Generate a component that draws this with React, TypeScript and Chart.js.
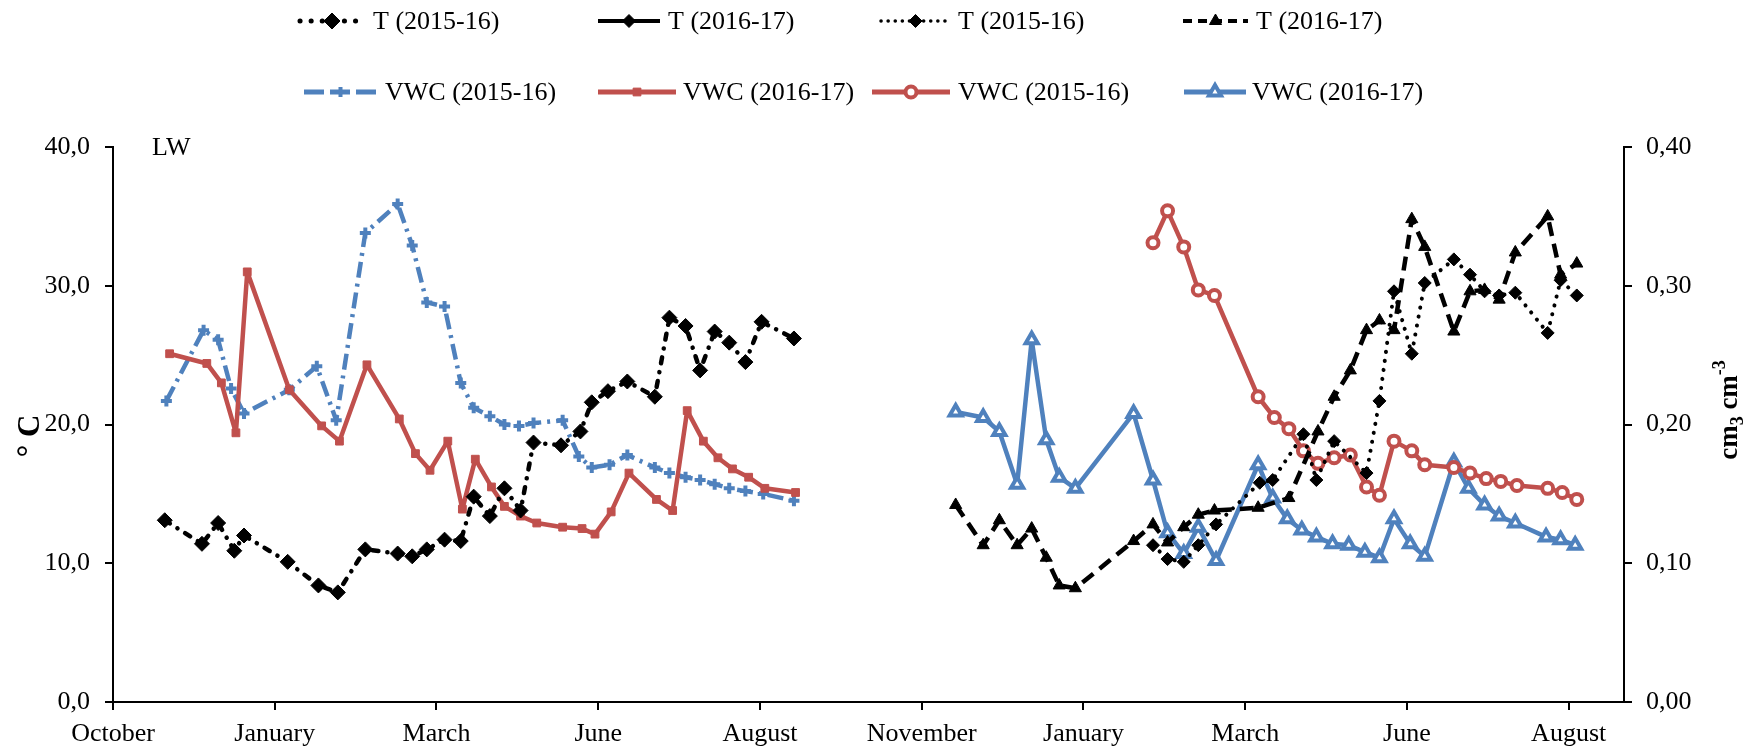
import React, { useEffect, useRef } from 'react';
import { Chart, registerables } from 'chart.js';

Chart.register(...registerables);

// ---------- tick labels ----------
const monthTicks = ['October', 'January', 'March', 'June', 'August', 'November', 'January', 'March', 'June', 'August'];
const tempTicksLabel = (v: number) => v.toFixed(1).replace('.', ',');
const vwcTicksLabel = (v: number) => v.toFixed(2).replace('.', ',');

// ---------- data (x in axis units: one unit per labelled month tick) ----------
// LW, first season block – soil temperature (°C)
const tempLW_x = [0.32, 0.55, 0.65, 0.75, 0.81, 1.08, 1.27, 1.39, 1.56, 1.76, 1.85, 1.94, 2.05, 2.15, 2.23, 2.33, 2.42, 2.52, 2.60, 2.77, 2.89, 2.96, 3.06, 3.18, 3.35, 3.44, 3.54, 3.63, 3.72, 3.81, 3.91, 4.01, 4.21];
const tempLW = [13.1, 11.4, 12.9, 10.9, 12.0, 10.1, 8.4, 7.9, 11.0, 10.7, 10.5, 11.0, 11.7, 11.6, 14.8, 13.4, 15.4, 13.8, 18.7, 18.5, 19.5, 21.6, 22.4, 23.1, 22.0, 27.7, 27.1, 23.9, 26.7, 25.9, 24.5, 27.4, 26.2];

// VWC (2015-16), blue dashed (cm3 cm-3)
const vwcBlueLW_x = [0.33, 0.56, 0.65, 0.73, 0.81, 1.09, 1.26, 1.38, 1.56, 1.76, 1.85, 1.94, 2.05, 2.15, 2.23, 2.33, 2.42, 2.51, 2.60, 2.78, 2.88, 2.96, 3.07, 3.18, 3.35, 3.44, 3.54, 3.63, 3.72, 3.81, 3.91, 4.02, 4.21];
const vwcBlueLW = [0.217, 0.268, 0.261, 0.226, 0.208, 0.225, 0.242, 0.203, 0.338, 0.359, 0.329, 0.288, 0.285, 0.230, 0.212, 0.206, 0.200, 0.199, 0.201, 0.203, 0.177, 0.169, 0.171, 0.178, 0.169, 0.165, 0.162, 0.160, 0.157, 0.154, 0.152, 0.150, 0.145];

// VWC (2016-17), red solid
const vwcRedLW_x = [0.35, 0.58, 0.67, 0.76, 0.83, 1.09, 1.29, 1.40, 1.57, 1.77, 1.87, 1.96, 2.07, 2.16, 2.24, 2.34, 2.42, 2.52, 2.62, 2.78, 2.90, 2.98, 3.08, 3.19, 3.36, 3.46, 3.55, 3.65, 3.74, 3.83, 3.93, 4.03, 4.22];
const vwcRedLW = [0.251, 0.244, 0.230, 0.194, 0.310, 0.225, 0.199, 0.188, 0.243, 0.204, 0.179, 0.167, 0.188, 0.139, 0.175, 0.155, 0.141, 0.134, 0.129, 0.126, 0.125, 0.121, 0.137, 0.165, 0.146, 0.138, 0.210, 0.188, 0.176, 0.168, 0.162, 0.154, 0.151];

// second block – T (2015-16), dotted with small diamonds
const tempB15_x = [6.43, 6.52, 6.62, 6.71, 6.82, 7.09, 7.17, 7.36, 7.44, 7.55, 7.75, 7.83, 7.92, 8.03, 8.11, 8.29, 8.39, 8.48, 8.57, 8.67, 8.87, 8.95, 9.05];
const tempB15 = [11.3, 10.3, 10.1, 11.3, 12.8, 15.8, 16.0, 19.3, 16.0, 18.8, 16.5, 21.7, 29.6, 25.1, 30.2, 31.9, 30.8, 29.6, 29.3, 29.5, 26.6, 30.4, 29.3];

// T (2016-17), dashed with triangles
const tempB16_x = [5.21, 5.38, 5.48, 5.59, 5.68, 5.77, 5.85, 5.95, 6.31, 6.43, 6.52, 6.62, 6.71, 6.81, 7.08, 7.27, 7.45, 7.55, 7.65, 7.75, 7.83, 7.92, 8.03, 8.11, 8.29, 8.39, 8.48, 8.57, 8.67, 8.87, 8.95, 9.05];
const tempB16 = [14.2, 11.3, 13.1, 11.3, 12.5, 10.4, 8.4, 8.2, 11.6, 12.8, 11.5, 12.6, 13.5, 13.8, 14.0, 14.7, 19.5, 22.0, 23.9, 26.8, 27.5, 26.8, 34.8, 32.8, 26.7, 29.6, 29.7, 29.0, 32.4, 35.0, 30.8, 31.6];

// VWC (2015-16), red with open circles
const vwcB15_x = [6.43, 6.52, 6.62, 6.71, 6.81, 7.08, 7.18, 7.27, 7.36, 7.45, 7.55, 7.65, 7.75, 7.83, 7.92, 8.03, 8.11, 8.29, 8.39, 8.49, 8.58, 8.68, 8.87, 8.96, 9.05];
const vwcB15 = [0.331, 0.354, 0.328, 0.297, 0.293, 0.220, 0.205, 0.197, 0.181, 0.172, 0.176, 0.178, 0.155, 0.149, 0.188, 0.181, 0.171, 0.169, 0.165, 0.161, 0.159, 0.156, 0.154, 0.151, 0.146];

// VWC (2016-17), blue with open triangles
const vwcB16_x = [5.21, 5.38, 5.48, 5.59, 5.68, 5.77, 5.85, 5.95, 6.31, 6.43, 6.52, 6.62, 6.71, 6.82, 7.08, 7.17, 7.26, 7.35, 7.44, 7.54, 7.64, 7.74, 7.83, 7.92, 8.02, 8.11, 8.29, 8.38, 8.48, 8.57, 8.67, 8.86, 8.95, 9.04];
const vwcB16 = [0.209, 0.205, 0.195, 0.157, 0.261, 0.189, 0.162, 0.154, 0.208, 0.160, 0.122, 0.107, 0.126, 0.102, 0.171, 0.147, 0.132, 0.124, 0.119, 0.114, 0.113, 0.108, 0.104, 0.132, 0.114, 0.105, 0.173, 0.154, 0.142, 0.134, 0.129, 0.119, 0.117, 0.113];

// ---------- styles ----------
const BLACK = '#000000';
const BLUE = '#4F81BD';
const RED = '#C0504D';
const FONT = "'Liberation Serif', 'Times New Roman', serif";

const pts = (xs: number[], ys: number[]) => xs.map((x, i) => ({ x, y: ys[i] }));

type Mk = { kind: string; r: number; fill: string; stroke: string; bw: number };
type LegendItem = {
  text: string; color: string; width: number; dash: number[]; cap: CanvasLineCap;
  mk: Mk; x0: number; x1: number; tx: number; y: number;
};

const legendItems: LegendItem[] = [
  { text: 'T (2015-16)', color: BLACK, width: 5, dash: [0.1, 11], cap: 'round', mk: { kind: 'diamond', r: 8, fill: BLACK, stroke: BLACK, bw: 1 }, x0: 300, x1: 364, tx: 373, y: 21 },
  { text: 'T (2016-17)', color: BLACK, width: 4, dash: [], cap: 'butt', mk: { kind: 'diamond', r: 6.5, fill: BLACK, stroke: BLACK, bw: 1 }, x0: 598, x1: 660, tx: 668, y: 21 },
  { text: 'T (2015-16)', color: BLACK, width: 3.5, dash: [0.1, 7], cap: 'round', mk: { kind: 'diamond', r: 6.5, fill: BLACK, stroke: BLACK, bw: 1 }, x0: 881, x1: 950, tx: 958, y: 21 },
  { text: 'T (2016-17)', color: BLACK, width: 4, dash: [9, 6], cap: 'butt', mk: { kind: 'triangle', r: 7, fill: BLACK, stroke: BLACK, bw: 1 }, x0: 1183, x1: 1248, tx: 1256, y: 21 },
  { text: 'VWC (2015-16)', color: BLUE, width: 5, dash: [20, 6], cap: 'butt', mk: { kind: 'cross', r: 5, fill: BLUE, stroke: BLUE, bw: 4 }, x0: 304, x1: 377, tx: 385, y: 92 },
  { text: 'VWC (2016-17)', color: RED, width: 5, dash: [], cap: 'butt', mk: { kind: 'rect', r: 5.5, fill: RED, stroke: RED, bw: 1 }, x0: 598, x1: 676, tx: 683, y: 92 },
  { text: 'VWC (2015-16)', color: RED, width: 5, dash: [], cap: 'butt', mk: { kind: 'circle', r: 5.5, fill: '#FFFFFF', stroke: RED, bw: 4 }, x0: 872, x1: 950, tx: 958, y: 92 },
  { text: 'VWC (2016-17)', color: BLUE, width: 5, dash: [], cap: 'butt', mk: { kind: 'triangle', r: 7, fill: '#FFFFFF', stroke: BLUE, bw: 4 }, x0: 1184, x1: 1246, tx: 1252, y: 92 },
];

function drawMarker(ctx: CanvasRenderingContext2D, m: Mk, x: number, y: number) {
  const r = m.r;
  ctx.save();
  ctx.setLineDash([]);
  ctx.lineWidth = m.bw;
  ctx.fillStyle = m.fill;
  ctx.strokeStyle = m.stroke;
  ctx.beginPath();
  if (m.kind === 'diamond') {
    ctx.moveTo(x, y - r); ctx.lineTo(x + r, y); ctx.lineTo(x, y + r); ctx.lineTo(x - r, y); ctx.closePath();
    ctx.fill(); ctx.stroke();
  } else if (m.kind === 'triangle') {
    let a = 0;
    ctx.moveTo(x + Math.sin(a) * r, y - Math.cos(a) * r);
    a += (2 * Math.PI) / 3;
    ctx.lineTo(x + Math.sin(a) * r, y - Math.cos(a) * r);
    a += (2 * Math.PI) / 3;
    ctx.lineTo(x + Math.sin(a) * r, y - Math.cos(a) * r);
    ctx.closePath();
    ctx.fill(); ctx.stroke();
  } else if (m.kind === 'circle') {
    ctx.arc(x, y, r, 0, Math.PI * 2);
    ctx.fill(); ctx.stroke();
  } else if (m.kind === 'rect') {
    const s = Math.SQRT1_2 * r;
    ctx.rect(x - s, y - s, 2 * s, 2 * s);
    ctx.fill(); ctx.stroke();
  } else if (m.kind === 'cross') {
    ctx.moveTo(x, y - r); ctx.lineTo(x, y + r);
    ctx.moveTo(x - r, y); ctx.lineTo(x + r, y);
    ctx.stroke();
  }
  ctx.restore();
}

const overlayPlugin = {
  id: 'overlay',
  afterDraw(chart: any) {
    const ctx: CanvasRenderingContext2D = chart.ctx;
    ctx.save();
    // legend
    ctx.font = `26px ${FONT}`;
    ctx.textBaseline = 'middle';
    ctx.textAlign = 'left';
    for (const it of legendItems) {
      ctx.save();
      ctx.strokeStyle = it.color;
      ctx.lineWidth = it.width;
      ctx.lineCap = it.cap;
      ctx.setLineDash(it.dash);
      ctx.beginPath();
      ctx.moveTo(it.x0, it.y);
      ctx.lineTo(it.x1, it.y);
      ctx.stroke();
      ctx.restore();
      drawMarker(ctx, it.mk, (it.x0 + it.x1) / 2, it.y);
      ctx.fillStyle = BLACK;
      ctx.fillText(it.text, it.tx, it.y + 1);
    }
    // site label
    const area = chart.chartArea;
    ctx.fillStyle = BLACK;
    ctx.font = `26px ${FONT}`;
    ctx.fillText('LW', area.left + 39, area.top + 1);

    // left axis title
    ctx.save();
    ctx.translate(31, 436);
    ctx.rotate(-Math.PI / 2);
    ctx.font = `bold 31px ${FONT}`;
    ctx.textAlign = 'center';
    ctx.textBaseline = 'middle';
    ctx.fillText('° C', 0, 0);
    ctx.restore();

    // right axis title  cm3 cm-3 (sub / superscript)
    ctx.save();
    ctx.translate(1730, 410);
    ctx.rotate(-Math.PI / 2);
    ctx.textBaseline = 'middle';
    ctx.textAlign = 'left';
    const big = `bold 27px ${FONT}`;
    const small = `bold 18px ${FONT}`;
    const parts: [string, string, number][] = [['cm', big, 0], ['3', small, 8], [' cm', big, 0], ['-3', small, -10]];
    let total = 0;
    for (const p of parts) { ctx.font = p[1]; total += ctx.measureText(p[0]).width; }
    let cx = -total / 2;
    for (const p of parts) {
      ctx.font = p[1];
      ctx.fillText(p[0], cx, p[2]);
      cx += ctx.measureText(p[0]).width;
    }
    ctx.restore();
    ctx.restore();
  },
};

export default function App() {
  const ref = useRef<HTMLCanvasElement>(null);
  useEffect(() => {
    document.body.style.margin = '0';
    document.body.style.overflow = 'hidden';
    const tickFont = { family: FONT, size: 26 };
    const gridCfg = { drawOnChartArea: false, drawTicks: true, tickLength: 8, color: BLACK, lineWidth: 2 };
    const borderCfg = { display: true, color: BLACK, width: 2 };

    const chart = new Chart(ref.current as HTMLCanvasElement, {
      type: 'line',
      data: {
        datasets: [
          {
            label: 'T (2015-16)', data: pts(tempLW_x, tempLW), yAxisID: 'y',
            borderColor: BLACK, borderWidth: 4.5, borderDash: [6, 9, 0.1, 9], borderCapStyle: 'round',
            pointStyle: 'rectRot', pointRadius: 7.5, pointBackgroundColor: BLACK, pointBorderColor: BLACK, pointBorderWidth: 1,
          },
          {
            label: 'T (2015-16) B', data: pts(tempB15_x, tempB15), yAxisID: 'y',
            borderColor: BLACK, borderWidth: 4, borderDash: [0.1, 9], borderCapStyle: 'round',
            pointStyle: 'rectRot', pointRadius: 6.5, pointBackgroundColor: BLACK, pointBorderColor: BLACK, pointBorderWidth: 1,
          },
          {
            label: 'T (2016-17) B', data: pts(tempB16_x, tempB16), yAxisID: 'y',
            borderColor: BLACK, borderWidth: 4.5, borderDash: [14, 8], borderCapStyle: 'butt',
            pointStyle: 'triangle', pointRadius: 7, pointBackgroundColor: BLACK, pointBorderColor: BLACK, pointBorderWidth: 1,
          },
          {
            label: 'VWC (2016-17)', data: pts(vwcRedLW_x, vwcRedLW), yAxisID: 'y2',
            borderColor: RED, borderWidth: 4.5,
            pointStyle: 'rect', pointRadius: 5.5, pointBackgroundColor: RED, pointBorderColor: RED, pointBorderWidth: 1,
          },
          {
            label: 'VWC (2015-16)', data: pts(vwcBlueLW_x, vwcBlueLW), yAxisID: 'y2',
            borderColor: BLUE, borderWidth: 4.5, borderDash: [16, 6, 3, 6], borderCapStyle: 'butt',
            pointStyle: 'cross', pointRadius: 5.5, pointBackgroundColor: BLUE, pointBorderColor: BLUE, pointBorderWidth: 4,
          },
          {
            label: 'VWC (2015-16) B', data: pts(vwcB15_x, vwcB15), yAxisID: 'y2',
            borderColor: RED, borderWidth: 4.5,
            pointStyle: 'circle', pointRadius: 5.5, pointBackgroundColor: '#FFFFFF', pointBorderColor: RED, pointBorderWidth: 4,
          },
          {
            label: 'VWC (2016-17) B', data: pts(vwcB16_x, vwcB16), yAxisID: 'y2',
            borderColor: BLUE, borderWidth: 4.5,
            pointStyle: 'triangle', pointRadius: 7, pointBackgroundColor: '#FFFFFF', pointBorderColor: BLUE, pointBorderWidth: 4,
          },
        ] as any,
      },
      options: {
        responsive: false,
        animation: false,
        devicePixelRatio: 1,
        events: [],
        layout: { padding: { top: 147, left: 0, right: 0, bottom: 0 } },
        elements: { line: { tension: 0, fill: false, borderJoinStyle: 'round' } },
        plugins: { legend: { display: false }, tooltip: { enabled: false }, title: { display: false } },
        scales: {
          x: {
            type: 'linear', min: 0, max: 9.342,
            afterBuildTicks: (s: any) => { s.ticks = monthTicks.map((_, i) => ({ value: i })); },
            afterFit: (s: any) => { s.height = 47; },
            ticks: {
              autoSkip: false, maxRotation: 0, minRotation: 0, padding: 9, color: BLACK, font: tickFont,
              callback: (v: any) => monthTicks[Math.round(Number(v))] ?? '',
            },
            grid: gridCfg, border: borderCfg,
          },
          y: {
            type: 'linear', position: 'left', min: 0, max: 40,
            afterFit: (s: any) => { s.width = 113; },
            ticks: { stepSize: 10, padding: 15, color: BLACK, font: tickFont, callback: (v: any) => tempTicksLabel(Number(v)) },
            grid: gridCfg, border: borderCfg,
          },
          y2: {
            type: 'linear', position: 'right', min: 0, max: 0.4,
            afterFit: (s: any) => { s.width = 127; },
            ticks: { stepSize: 0.1, padding: 14, color: BLACK, font: tickFont, callback: (v: any) => vwcTicksLabel(Number(v)) },
            grid: gridCfg, border: borderCfg,
          },
        },
      } as any,
      plugins: [overlayPlugin],
    });
    return () => chart.destroy();
  }, []);
  return <canvas ref={ref} width={1751} height={749} style={{ display: 'block', width: '1751px', height: '749px' }} />;
}
